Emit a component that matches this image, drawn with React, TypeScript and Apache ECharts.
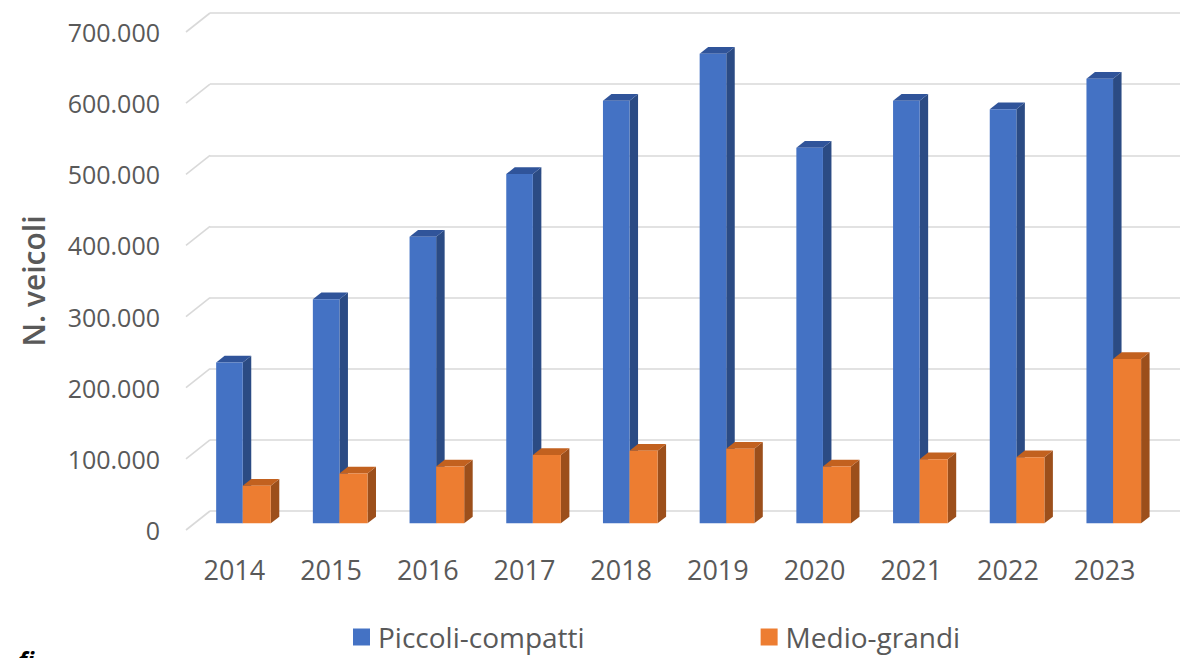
import React, { useEffect, useRef } from "react";
import * as echarts from "echarts";

// Years on the category axis
const CATEGORIES = ["2014", "2015", "2016", "2017", "2018", "2019", "2020", "2021", "2022", "2023"];
// Vehicles per year, small/compact segment
const PICCOLI_COMPATTI = [226000, 315000, 403000, 491000, 594000, 660000, 528000, 594000, 582000, 625000];
// Vehicles per year, medium/large segment
const MEDIO_GRANDI = [53000, 70000, 80000, 96000, 102000, 105000, 80000, 90000, 93000, 231000];
// Value-axis ticks
const Y_TICKS = [0, 100000, 200000, 300000, 400000, 500000, 600000, 700000];

const SERIES_NAMES = ["Piccoli-compatti", "Medio-grandi"];

const TEXT_COLOR = "#595959";
const GRID_COLOR = "#D9D9D9";
const FONT = "'Open Sans', 'Noto Sans', sans-serif";

// Oblique 3D frame: front plane, floor depth and the plane the bars stand on
const FRONT = { left: 186, top: 32, width: 967, height: 498 };
const FLOOR = { dx: 24, dy: -19 };
const BAR_PLANE = 0.35;
const BAR_DEPTH = { dx: 8.5, dy: -6.7 };

const BLUE = { front: "#4472C4", side: "#2B4B84", top: "#30549A" };
const ORANGE = { front: "#ED7D31", side: "#9C4F1B", top: "#C2611F" };

const fmt = (v: number) => String(v).replace(/\B(?=(\d{3})+(?!\d))/g, ".");

function barRenderer(side: "left" | "right", widthFrac: number, colors: typeof BLUE) {
  return (params: any, api: any) => {
    const idx = api.value(0);
    const v = api.value(1);
    const base = api.coord([idx, 0]);
    const top = api.coord([idx, v]);
    const band = api.size([1, 0])[0];
    const w = band * widthFrac;
    const x0 = side === "left" ? base[0] - w : base[0];
    const x1 = x0 + w;
    const yb = base[1];
    const yt = top[1];
    const { dx, dy } = BAR_DEPTH;
    return {
      type: "group",
      children: [
        {
          type: "polygon",
          shape: { points: [[x1, yb], [x1 + dx, yb + dy], [x1 + dx, yt + dy], [x1, yt]] },
          style: { fill: colors.side },
        },
        {
          type: "polygon",
          shape: { points: [[x0, yt], [x1, yt], [x1 + dx, yt + dy], [x0 + dx, yt + dy]] },
          style: { fill: colors.top },
        },
        {
          type: "rect",
          shape: { x: x0, y: yt, width: w, height: yb - yt },
          style: { fill: colors.front },
        },
      ],
    };
  };
}

export default function App() {
  const ref = useRef<HTMLDivElement>(null);

  useEffect(() => {
    if (!ref.current) return;
    const chart = echarts.init(ref.current, null, { renderer: "svg" });

    const yMax = Y_TICKS[Y_TICKS.length - 1];
    const yInterval = Y_TICKS[1] - Y_TICKS[0];
    const valueAxis = (extra: any) => ({
      type: "value",
      min: Y_TICKS[0],
      max: yMax,
      interval: yInterval,
      axisLine: { show: false },
      axisTick: { show: false },
      axisLabel: { show: false },
      splitLine: { show: false },
      ...extra,
    });
    const catAxis = (extra: any) => ({
      type: "category",
      data: CATEGORIES,
      axisLine: { show: false },
      axisTick: { show: false },
      axisLabel: { show: false },
      splitLine: { show: false },
      ...extra,
    });

    chart.setOption({
      animation: false,
      backgroundColor: "#ffffff",
      grid: [
        // back wall
        {
          left: FRONT.left + FLOOR.dx,
          top: FRONT.top + FLOOR.dy,
          width: 1180 - (FRONT.left + FLOOR.dx),
          height: FRONT.height,
        },
        // front plane (labels)
        { left: FRONT.left, top: FRONT.top, width: FRONT.width, height: FRONT.height },
        // plane the bars stand on
        {
          left: FRONT.left + FLOOR.dx * BAR_PLANE,
          top: FRONT.top + FLOOR.dy * BAR_PLANE,
          width: FRONT.width,
          height: FRONT.height,
        },
      ],
      xAxis: [
        catAxis({ gridIndex: 0 }),
        catAxis({
          gridIndex: 1,
          axisLabel: {
            show: true,
            color: TEXT_COLOR,
            fontFamily: FONT,
            fontSize: 27,
            margin: 26,
          },
        }),
        catAxis({ gridIndex: 2 }),
      ],
      yAxis: [
        valueAxis({
          gridIndex: 0,
          splitLine: { show: true, lineStyle: { color: GRID_COLOR, width: 1.6 } },
        }),
        valueAxis({
          gridIndex: 1,
          axisLabel: {
            show: true,
            color: TEXT_COLOR,
            fontFamily: FONT,
            fontSize: 25,
            margin: 26,
            formatter: (v: number) => fmt(v),
          },
        }),
        valueAxis({ gridIndex: 2 }),
      ],
      legend: {
        data: SERIES_NAMES,
        left: 353,
        top: 623,
        padding: 0,
        icon: "rect",
        itemWidth: 17,
        itemHeight: 17,
        itemGap: 176,
        textStyle: {
          color: TEXT_COLOR,
          fontFamily: FONT,
          fontSize: 28,
          lineHeight: 28,
          padding: [0, 0, 0, 3],
        },
      },
      graphic: [
        {
          type: "text",
          x: 33,
          y: 281,
          rotation: Math.PI / 2,
          style: {
            text: "N. veicoli",
            fill: TEXT_COLOR,
            font: `600 30px ${FONT}`,
            align: "center",
            verticalAlign: "middle",
          },
        },
        {
          type: "text",
          x: 18,
          y: 647,
          style: {
            text: "fi",
            fill: "#000000",
            font: `italic bold 24px ${FONT}`,
            align: "left",
            verticalAlign: "top",
          },
        },
      ],
      series: [
        {
          // floor-to-wall connectors of the gridlines
          type: "custom",
          silent: true,
          xAxisIndex: 1,
          yAxisIndex: 1,
          data: Y_TICKS.map((v) => [0, v]),
          encode: { x: 0, y: 1 },
          renderItem: (params: any, api: any) => {
            const y = api.coord([0, api.value(1)])[1];
            const x = params.coordSys.x;
            return {
              type: "line",
              shape: { x1: x, y1: y, x2: x + FLOOR.dx, y2: y + FLOOR.dy },
              style: { stroke: GRID_COLOR, lineWidth: 1.6 },
            };
          },
          z: 1,
        },
        {
          name: SERIES_NAMES[0],
          type: "custom",
          xAxisIndex: 2,
          yAxisIndex: 2,
          itemStyle: { color: BLUE.front },
          data: PICCOLI_COMPATTI.map((v, i) => [i, v]),
          encode: { x: 0, y: 1 },
          renderItem: barRenderer("left", 0.275, BLUE),
          z: 3,
        },
        {
          name: SERIES_NAMES[1],
          type: "custom",
          xAxisIndex: 2,
          yAxisIndex: 2,
          itemStyle: { color: ORANGE.front },
          data: MEDIO_GRANDI.map((v, i) => [i, v]),
          encode: { x: 0, y: 1 },
          renderItem: barRenderer("right", 0.29, ORANGE),
          z: 4,
        },
      ],
    });

    return () => chart.dispose();
  }, []);

  return (
    <div
      ref={ref}
      style={{ position: "fixed", left: 0, top: 0, width: 1180, height: 658, background: "#fff" }}
    />
  );
}
